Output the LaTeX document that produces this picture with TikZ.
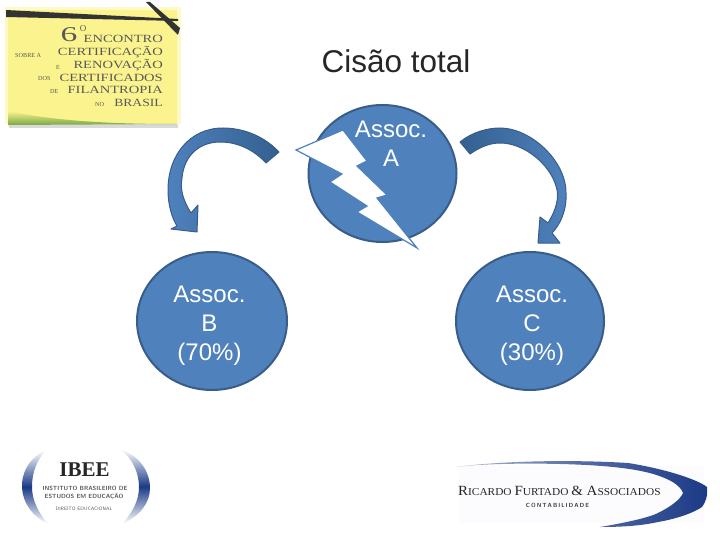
\documentclass[tikz,border=0pt]{standalone}
\usepackage{fontspec}
\usepackage{graphicx}
\setmainfont{Liberation Sans}
\newfontfamily\logoserif{Liberation Serif}
\usetikzlibrary{shapes.geometric}
\definecolor{fillblue}{HTML}{4F81BD}
\definecolor{edgeblue}{HTML}{385D8A}
\definecolor{darkarrow}{HTML}{33608F}
\definecolor{navy}{HTML}{1B3A86}
\definecolor{note}{HTML}{FBF48E}
\definecolor{notesoft}{HTML}{FDFAC8}
\newcommand{\fs}[1]{\fontsize{#1}{#1}\selectfont}
\newcommand{\wide}[1]{\scalebox{1.32}[1]{#1}}
\tikzset{
  circ/.style={draw=edgeblue,line width=2pt,fill=fillblue,ellipse,inner sep=0pt},
  circlab/.style={text=white,align=center,font=\fs{24},inner sep=0pt},
  lab/.style={inner sep=0pt,font=\logoserif\fs{#1},text=black!65},
  arrowleft/.style={draw=edgeblue,line width=1pt,left color=fillblue,right color=darkarrow,line join=round},
  arrowright/.style={draw=edgeblue,line width=1pt,left color=darkarrow,right color=fillblue,line join=round},
  crescent/.style={top color=white,bottom color=white,middle color=navy},
}
\begin{document}
\begin{tikzpicture}[x=1pt,y=-1pt]
\useasboundingbox (0,0) rectangle (720,540);
% --- Yellow note logo
\fill[black!15] (8,118) -- (177,118) -- (178,128) -- (9,128) -- cycle;
\fill[notesoft] (5,7) rectangle (181,124);
\fill[note] (8,10) rectangle (177,124);
\shade[top color=note,bottom color=black!40!note!80!green] (8,111) .. controls (60,122) and (120,124) .. (177,124) -- (8,125) -- cycle;
\fill[black!80] (6,10) -- (178,19) -- (178,21) -- (6,17) -- cycle;
\fill[black!80] (146,2) -- (150,2) -- (180,28) -- (178,35) -- cycle;
\node[lab=21] (six) at (69,34.5) {\scalebox{1.6}[1]{6}};
\node[lab=9] (sixo) at (83,29) {O};
\node[lab=11,anchor=east] (enc) at (163,39) {\wide{ENCONTRO}};
\node[lab=6.2,anchor=west] (sob) at (15,55) {SOBRE A};
\node[lab=11,anchor=east] (cert) at (163,52) {\wide{CERTIFICAÇÃO}};
\node[lab=6.2] (e) at (58,67) {E};
\node[lab=11,anchor=east] (ren) at (163,65.5) {\wide{RENOVAÇÃO}};
\node[lab=6.2,anchor=west] (dos) at (38,78) {DOS};
\node[lab=11,anchor=east] (certs) at (163,77.5) {\wide{CERTIFICADOS}};
\node[lab=6.2,anchor=west] (de) at (50,91) {DE};
\node[lab=11,anchor=east] (fil) at (163,90) {\wide{FILANTROPIA}};
\node[lab=6.2,anchor=west] (no) at (95,104) {NO};
\node[lab=11,anchor=east] (bra) at (163,103) {\scalebox{1.24}[1]{BRASIL}};
% --- Title
\node[inner sep=0pt,font=\fs{31.5},text=black!85] (title) at (396,61) {Cisão total};
% --- Circles
\node[circ,minimum width=148pt,minimum height=137pt] (A) at (382.5,173.5) {};
\node[circ,minimum width=150pt,minimum height=138pt] (B) at (212,321) {};
\node[circ,minimum width=148pt,minimum height=138pt] (C) at (530,321) {};
% --- Lightning
\draw[draw=fillblue,line width=1.2pt,fill=white,line join=miter]
 (296,150) -- (343,130) -- (367,161) -- (357,166) -- (387,195) -- (377,198) -- (417,248)
 -- (357,212) -- (367,206) -- (330,182) -- (342,174) -- cycle;
% --- Labels
\node[circlab] (Atext) at (391,143.5) {Assoc.\\[5pt]A};
\node[circlab] (Btext) at (209.5,326) {Assoc.\\[5pt]B\\[5pt](70\%)};
\node[circlab] (Ctext) at (532,326) {Assoc.\\[5pt]C\\[5pt](30\%)};
% --- Curved arrows
\path[arrowleft] (279,152) .. controls (262,134) and (240,128) .. (223,128)
  .. controls (190,128) and (168,155) .. (168,190)
  .. controls (168,205) and (172,218) .. (177,226)
  -- (171,229) -- (197,232) -- (198,205) -- (191,213)
  .. controls (183,200) and (180,190) .. (182,178)
  .. controls (184,155) and (200,142) .. (220,142)
  .. controls (238,142) and (254,150) .. (266,163) -- cycle;
\path[arrowright] (460,142) .. controls (472,132) and (488,128) .. (500,128)
  .. controls (530,128) and (566,160) .. (566,193)
  .. controls (567,210) and (560,225) .. (552,233)
  -- (560,243) -- (538,243) -- (540,217) -- (548,223)
  .. controls (556,210) and (560,197) .. (556,186)
  .. controls (550,165) and (525,143) .. (500,143)
  .. controls (490,143) and (480,147) .. (470,154) -- cycle;
% --- IBEE logo
\shade[crescent] (46,450) .. controls (28,458) and (21,475) .. (22,488)
  .. controls (23,503) and (32,516) .. (48,524) .. controls (38,512) and (32,500) .. (32,487)
  .. controls (32,472) and (37,460) .. (46,450) -- cycle;
\shade[crescent] (120,449) .. controls (140,456) and (150,472) .. (150,488)
  .. controls (150,503) and (140,516) .. (122,524) .. controls (133,512) and (139,500) .. (139,487)
  .. controls (139,472) and (132,458) .. (120,449) -- cycle;
\node[lab=20,text=black!85,font=\logoserif\bfseries\fs{21}] (ibee) at (84.5,469.5) {IBEE};
\node[lab=6,font=\sffamily\bfseries\fs{6}] (ib1) at (85,488) {INSTITUTO BRASILEIRO DE};
\node[lab=6,font=\sffamily\bfseries\fs{6}] (ib2) at (84,497) {ESTUDOS EM EDUCAÇÃO};
\node[lab=5,font=\sffamily\fs{4.8}] (ib3) at (84,509) {DIREITO EDUCACIONAL};
% --- Ricardo Furtado logo
\fill[blue!1] (458,466) rectangle (704,523);
\path[left color=navy!35!white,right color=navy,middle color=navy!75!white,line join=round] (455,467) .. controls (510,460) and (580,460) .. (628,463)
  .. controls (660,468) and (695,478) .. (707,487)
  .. controls (708,497) and (705,503) .. (702,507)
  .. controls (690,515) and (670,520) .. (658,522)
  .. controls (640,526) and (620,527) .. (600,527)
  .. controls (630,522) and (650,517) .. (658,513)
  .. controls (670,507) and (680,500) .. (683,493)
  .. controls (680,485) and (670,480) .. (662,477)
  .. controls (640,468) and (600,465) .. (560,464)
  .. controls (520,463) and (480,464) .. (455,467) -- cycle;
\node[lab=12,anchor=west,text=black!85] (rf) at (458,491) {\scalebox{1.07}[1]{\fs{14}R\fs{10.6}ICARDO \fs{14}F\fs{10.6}URTADO \fs{14}\& A\fs{10.6}SSOCIADOS}};
\node[lab=5,font=\sffamily\bfseries\fs{5.9},text=black!75] (rf2) at (557.5,505.5) {C\,O\,N\,T\,A\,B\,I\,L\,I\,D\,A\,D\,E};
\end{tikzpicture}
\end{document}
